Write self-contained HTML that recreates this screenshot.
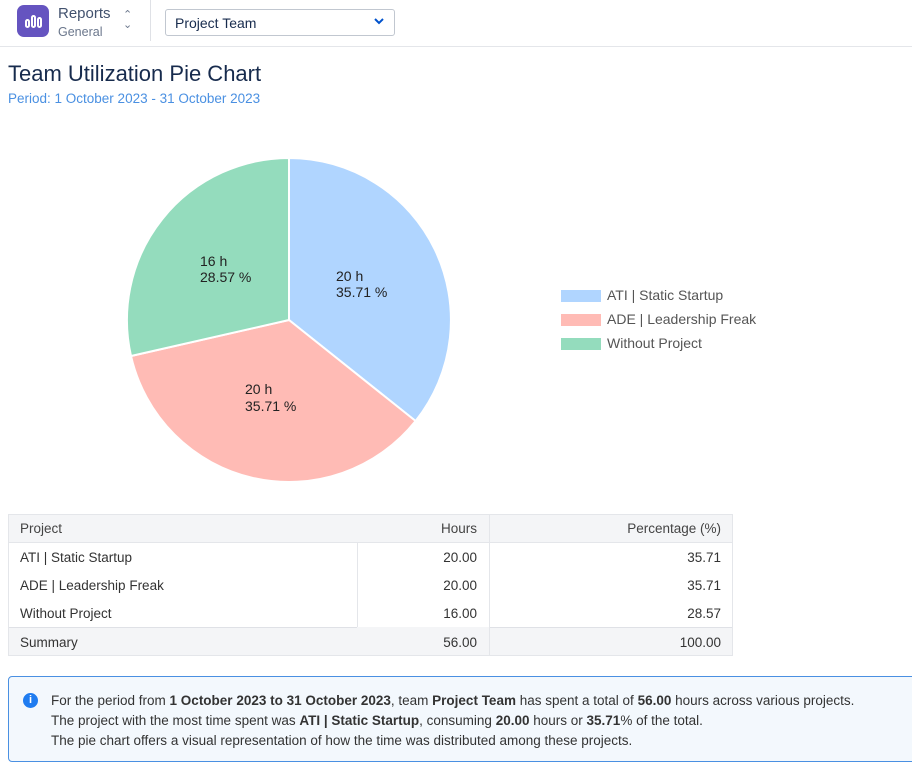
<!DOCTYPE html>
<html><head><style>
body{margin:0;width:912px;height:780px;background:#fff;font-family:"Liberation Sans",sans-serif;color:#172b4d;position:relative;overflow:hidden}
.abs{position:absolute}
</style></head><body>
<div class="abs" style="left:17px;top:5px;width:32px;height:32px;border-radius:7px;background:#6554c0"></div>
<svg class="abs" style="left:17px;top:5px" width="32" height="32"><g fill="none" stroke="#fff" stroke-width="2"><rect x="9" y="15" width="3" height="7" rx="1.5"/><rect x="15" y="11" width="3" height="11" rx="1.5"/><rect x="21" y="13" width="3" height="9" rx="1.5"/></g></svg>
<div class="abs" style="left:58px;top:5px;font-size:15px;color:#42526e">Reports</div>
<div class="abs" style="left:58px;top:25px;font-size:12.5px;color:#6b778c">General</div>
<div class="abs" style="left:123px;top:10px;font-size:11px;color:#6b778c;line-height:10px">⌃<br>⌄</div>
<div class="abs" style="left:150px;top:0;width:1px;height:41px;background:#dfe1e6"></div>
<div class="abs" style="left:165px;top:9px;width:228px;height:25px;border:1px solid #c1c7d0;border-radius:3px"></div>
<div class="abs" style="left:175px;top:15px;font-size:14px;color:#172b4d">Project Team</div>
<svg class="abs" style="left:374px;top:17px" width="10" height="8"><path d="M1 2l4 4 4-4" stroke="#0052cc" stroke-width="2" fill="none"/></svg>
<div class="abs" style="left:0;top:46px;width:912px;height:1px;background:#e4e6ea"></div>
<div class="abs" style="left:8px;top:61px;font-size:22px;color:#172b4d">Team Utilization Pie Chart</div>
<div class="abs" style="left:8px;top:91px;font-size:13.5px;color:#4a90e2">Period: 1 October 2023 - 31 October 2023</div>
<svg class="abs" style="left:0;top:0" width="912" height="500">
<g stroke="#fff" stroke-width="2">
<path d="M289,320 L289,158 A162,162 0 0 1 415.6,421 Z" fill="#b0d5ff"/>
<path d="M289,320 L415.6,421 A162,162 0 0 1 131,356 Z" fill="#ffbbb5"/>
<path d="M289,320 L131,356 A162,162 0 0 1 289,158 Z" fill="#94dcbd"/>
</g>
<g font-size="14" fill="#222" font-family="Liberation Sans,sans-serif">
<text x="336" y="281">20 h</text><text x="336" y="297">35.71 %</text>
<text x="245" y="394">20 h</text><text x="245" y="411">35.71 %</text>
<text x="200" y="266">16 h</text><text x="200" y="282">28.57 %</text>
</g>
<rect x="561" y="290" width="40" height="12" fill="#b0d5ff"/>
<rect x="561" y="314" width="40" height="12" fill="#ffbbb5"/>
<rect x="561" y="338" width="40" height="12" fill="#94dcbd"/>
<g font-size="14" fill="#555" font-family="Liberation Sans,sans-serif">
<text x="607" y="300">ATI | Static Startup</text>
<text x="607" y="324">ADE | Leadership Freak</text>
<text x="607" y="348">Without Project</text>
</g>
</svg>
<div class="abs" style="left:8px;top:514px;width:725px;height:29px;background:#f4f5f7;border-bottom:1px solid #e4e6ea;box-sizing:border-box"></div>
<div class="abs" style="left:8px;top:627px;width:725px;height:29px;background:#f4f5f7;border-top:1px solid #dfe1e6;box-sizing:border-box"></div>
<div class="abs" style="left:357px;top:543px;width:1px;height:84px;background:#e4e6ea"></div>
<div class="abs" style="left:357px;top:627px;width:132px;height:29px;background:#f4f5f7"></div>
<div class="abs" style="left:489px;top:514px;width:1px;height:142px;background:#e4e6ea"></div>
<div class="abs" style="left:8px;top:514px;width:725px;height:142px;border:1px solid #e4e6ea;box-sizing:border-box"></div>
<div class="abs" style="left:20px;top:521px;font-size:13.5px;color:#444">Project</div>
<div class="abs" style="left:357px;top:521px;width:120px;text-align:right;font-size:13.5px;color:#444">Hours</div>
<div class="abs" style="left:489px;top:521px;width:232px;text-align:right;font-size:13.5px;color:#444">Percentage (%)</div>
<div class="abs" style="left:20px;top:544px;font-size:13.5px;color:#333;line-height:28px">ATI | Static Startup<br>ADE | Leadership Freak<br>Without Project<br><span style="position:relative;top:1px">Summary</span></div>
<div class="abs" style="left:357px;top:544px;width:120px;text-align:right;font-size:13.5px;color:#333;line-height:28px">20.00<br>20.00<br>16.00<br><span style="position:relative;top:1px">56.00</span></div>
<div class="abs" style="left:489px;top:544px;width:232px;text-align:right;font-size:13.5px;color:#333;line-height:28px">35.71<br>35.71<br>28.57<br><span style="position:relative;top:1px">100.00</span></div>
<div class="abs" style="left:8px;top:676px;width:920px;height:86px;border:1px solid #4a90e2;border-radius:4px;background:#f3f8fd;box-sizing:border-box"></div>
<div class="abs" style="left:23px;top:693px;width:15px;height:15px;border-radius:50%;background:#1f7cf0;color:#fff;font-size:11px;font-weight:bold;text-align:center;line-height:15px">i</div>
<div class="abs" style="left:51px;top:691px;font-size:13.5px;line-height:20px;color:#333;white-space:nowrap">For the period from <b>1 October 2023 to 31 October 2023</b>, team <b>Project Team</b> has spent a total of <b>56.00</b> hours across various projects.<br>The project with the most time spent was <b>ATI | Static Startup</b>, consuming <b>20.00</b> hours or <b>35.71</b>% of the total.<br>The pie chart offers a visual representation of how the time was distributed among these projects.</div>
</body></html>
